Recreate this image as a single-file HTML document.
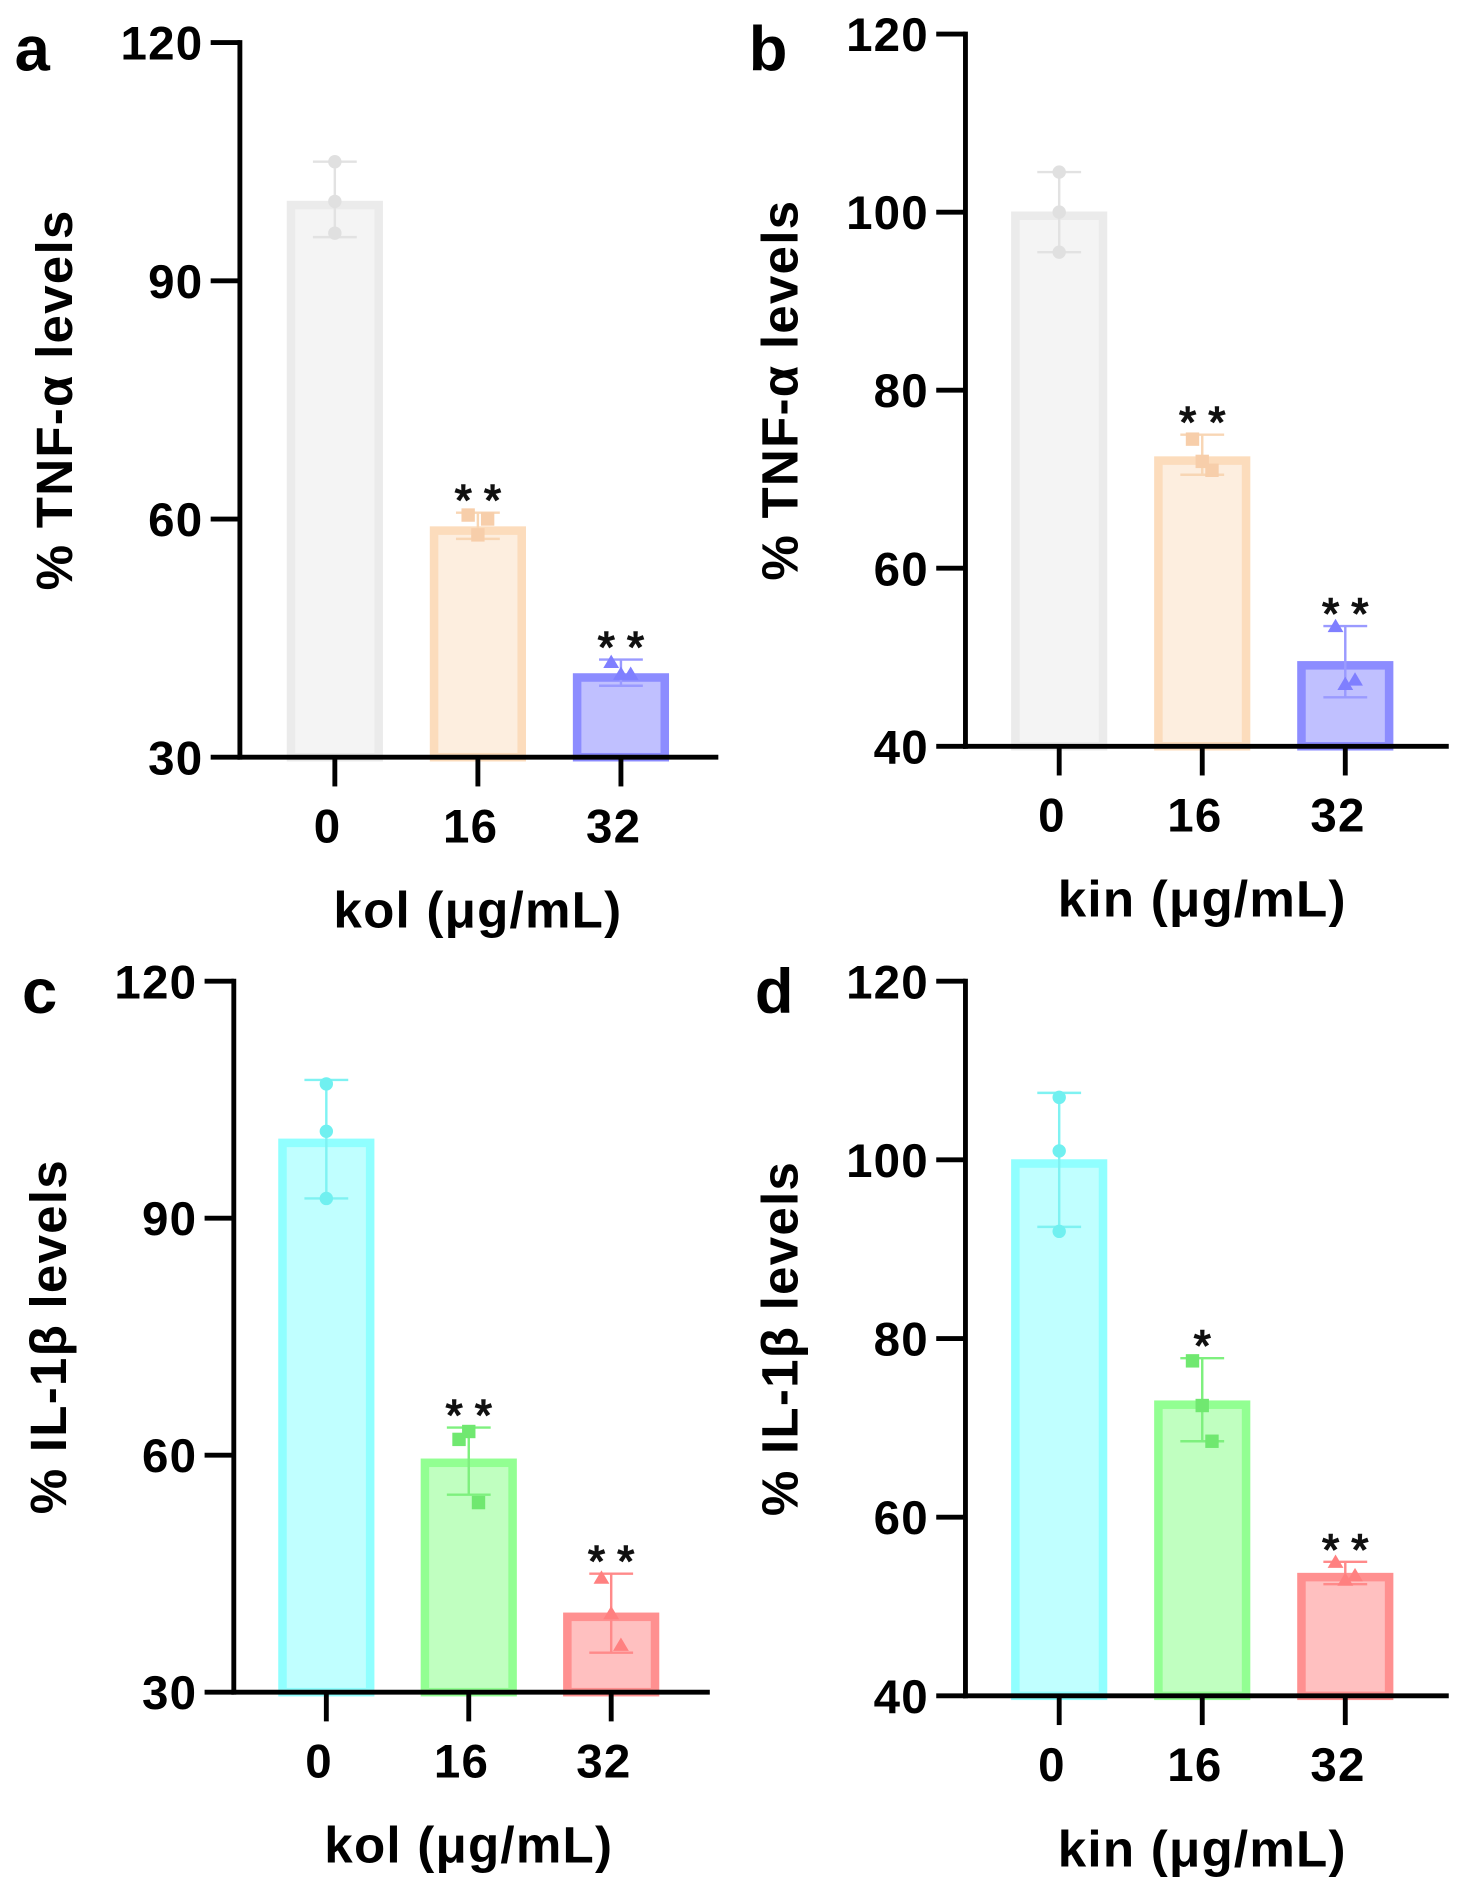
<!DOCTYPE html>
<html><head><meta charset="utf-8"><style>
html,body{margin:0;padding:0;background:#fff;}
svg{display:block;font-family:"Liberation Sans",Arial,sans-serif;font-weight:bold;}
</style></head><body>
<svg id="fig" width="1461" height="1904" viewBox="0 0 1200 1564" xmlns="http://www.w3.org/2000/svg"></svg>
<script>
const categories = ["0","16","32"];
const aMeans = [100, 59, 40.5];
const aPoints = [[105,100,96],[60.5,58,60],[42,40.5,40.5]];
const aErrHi = [105, 60.8, 42.3];
const aErrLo = [95.5, 57.5, 39];
const aStars = ["", "**", "**"];
const bMeans = [100, 72.5, 49.5];
const bPoints = [[104.5,100,95.5],[74.5,72,71],[53.5,47,47.5]];
const bErrHi = [104.5, 75, 53.5];
const bErrLo = [95.5, 70.5, 45.5];
const bStars = ["", "**", "**"];
const cMeans = [100, 59.5, 40];
const cPoints = [[107,101,92.5],[62,63,54],[44.5,40,36]];
const cErrHi = [107.5, 63.5, 45];
const cErrLo = [92.5, 55, 35];
const cStars = ["", "**", "**"];
const dMeans = [100, 73, 53.7];
const dPoints = [[107,101,92],[77.5,72.5,68.5],[55,53,53.5]];
const dErrHi = [107.5, 77.8, 55];
const dErrLo = [92.5, 68.5, 52.5];
const dStars = ["", "*", "**"];
const abTicks = [30,60,90,120];
const bdTicks = [40,60,80,100,120];

const NS="http://www.w3.org/2000/svg";
const svg=document.getElementById('fig');
function mk(tag,attrs,parent){const e=document.createElementNS(NS,tag);for(const k in attrs)e.setAttribute(k,attrs[k]);(parent||svg).appendChild(e);return e;}

function panel(cfg){
  const g=mk('g',{});
  
  
  const ticks=cfg.ticks, ymin=ticks[0], ymax=ticks[ticks.length-1];
  const Y=v=>cfg.y0+(cfg.y1-cfg.y0)*(v-ymin)/(ymax-ymin);
  const X=i=>cfg.xc[0]+i*cfg.dx;
  const bw=72;
  cfg.means.forEach((m,i)=>{
    const c=cfg.colors[i];
    const r=mk('rect',{x:X(i)-bw/2,y:Y(m)+3,width:bw,height:Y(ymin)-Y(m)-3,fill:c.fill,stroke:c.stroke,'stroke-width':7},g);
    
    
    const e=mk('g',{stroke:c.err,'stroke-width':2},g);
    
    
    mk('line',{x1:X(i),x2:X(i),y1:Y(cfg.hi[i]),y2:Y(cfg.lo[i])},e);
    mk('line',{x1:X(i)-18,x2:X(i)+18,y1:Y(cfg.hi[i]),y2:Y(cfg.hi[i])},e);
    mk('line',{x1:X(i)-18,x2:X(i)+18,y1:Y(cfg.lo[i]),y2:Y(cfg.lo[i])},e);
    cfg.points[i].forEach((p,j)=>{
      const px=X(i)+[-8,0,8][j]*(i===0?0:1), py=Y(p);
      let s;
      if(i===0) s=mk('circle',{cx:px,cy:py,r:5.5,fill:c.pt},g);
      else if(i===1) s=mk('rect',{x:px-5.5,y:py-5.5,width:11,height:11,fill:c.pt},g);
      else s=mk('polygon',{points:`${px},${py-6} ${px-6.5},${py+5} ${px+6.5},${py+5}`,fill:c.pt},g);
      
      
    });
    if(cfg.stars[i]){
      const t=mk('text',{x:X(i),y:Y(cfg.hi[i])+2,'text-anchor':'middle','font-size':36,'font-weight':'normal',fill:'#111',stroke:'#111','stroke-width':1.2},g);
      t.textContent=cfg.stars[i].split('').join(' ');
      
      
    }
  });
  const ax=mk('g',{stroke:'#000','stroke-width':4,fill:'none'},g);
  
  
  mk('line',{x1:cfg.ax,x2:cfg.ax,y1:Y(ymax)-2,y2:Y(ymin)+2},ax);
  mk('line',{x1:cfg.ax-2,x2:cfg.xend,y1:Y(ymin),y2:Y(ymin)},ax);
  ticks.forEach(t=>{
    mk('line',{x1:cfg.ax-24,x2:cfg.ax,y1:Y(t),y2:Y(t)},ax);
    const tl=mk('text',{x:cfg.ax-30,y:Y(t)+14,'text-anchor':'end','font-size':39,'letter-spacing':1,fill:'#000'},g);
    tl.textContent=t;
    
    
  });
  categories.forEach((c,i)=>{
    mk('line',{x1:X(i),x2:X(i),y1:Y(ymin),y2:Y(ymin)+24},ax);
    const tl=mk('text',{x:X(i)-6,y:Y(ymin)+70,'text-anchor':'middle','font-size':39,'letter-spacing':1,fill:'#000'},g);
    tl.textContent=c;
    
    
  });
  const xt=mk('text',{x:X(1),y:Y(ymin)+140,'text-anchor':'middle','font-size':42,'letter-spacing':1,fill:'#000'},g);
  xt.textContent=cfg.xtitle;
  
  
  const yc=(Y(ymin)+Y(ymax))/2;
  const yt=mk('text',{x:0,y:0,'text-anchor':'middle','font-size':42,'letter-spacing':1,fill:'#000',transform:`translate(${cfg.ax-138},${yc}) rotate(-90)`},g);
  yt.textContent=cfg.ytitle;
  
  
  const lt=mk('text',{x:cfg.lx,y:cfg.ly,'font-size':52,fill:'#000'},g);
  lt.textContent=cfg.letter;
  
  
}
const grayC=[{fill:'#f4f4f4',stroke:'#ebebeb',err:'#e2e2e2',pt:'#e0e0e0'},{fill:'#fdeedf',stroke:'#fcdcbc',err:'#f8d6b4',pt:'#f7ceaa'},{fill:'#c0c0ff',stroke:'#8c8cff',err:'#9a9aff',pt:'#7f7fff'}];
const colC=[{fill:'#c0ffff',stroke:'#90ffff',err:'#7ff2f2',pt:'#70f0f0'},{fill:'#c0ffc0',stroke:'#92ff92',err:'#7ef07e',pt:'#70e870'},{fill:'#ffc0c0',stroke:'#ff9090',err:'#ff8a8a',pt:'#ff8080'}];
panel({letter:'a',ticks:abTicks,y0:622,y1:35,ax:197,xend:590,xc:[275],dx:117.5,means:aMeans,points:aPoints,hi:aErrHi,lo:aErrLo,stars:aStars,colors:grayC,xtitle:'kol (μg/mL)',ytitle:'% TNF-α levels',lx:12,ly:58});
panel({letter:'b',ticks:bdTicks,y0:613,y1:28,ax:793,xend:1190,xc:[870],dx:117.5,means:bMeans,points:bPoints,hi:bErrHi,lo:bErrLo,stars:bStars,colors:grayC,xtitle:'kin (μg/mL)',ytitle:'% TNF-α levels',lx:615,ly:58});
panel({letter:'c',ticks:abTicks,y0:1390,y1:806,ax:192,xend:583,xc:[268],dx:117,means:cMeans,points:cPoints,hi:cErrHi,lo:cErrLo,stars:cStars,colors:colC,xtitle:'kol (μg/mL)',ytitle:'% IL-1β levels',lx:18,ly:832});
panel({letter:'d',ticks:bdTicks,y0:1393,y1:806,ax:793,xend:1190,xc:[870],dx:117.5,means:dMeans,points:dPoints,hi:dErrHi,lo:dErrLo,stars:dStars,colors:colC,xtitle:'kin (μg/mL)',ytitle:'% IL-1β levels',lx:620,ly:832});
</script>
</body></html>
